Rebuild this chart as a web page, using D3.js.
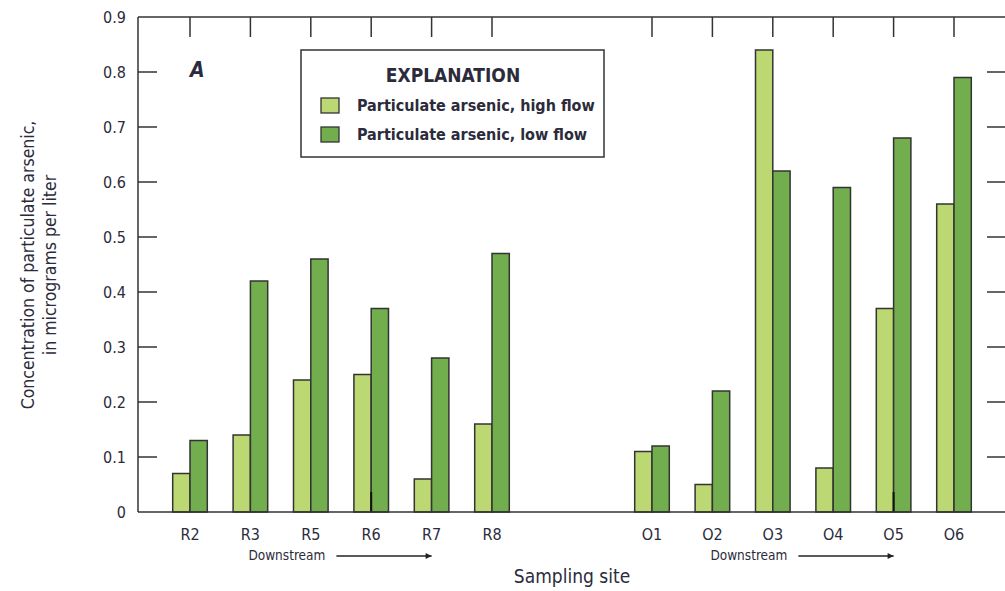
<!DOCTYPE html>
<html>
<head>
<meta charset="utf-8">
<script src="https://cdn.jsdelivr.net/npm/d3@7"></script>
<style>
  body { margin: 0; background: #fff; }
  svg text { font-family: "Liberation Sans Narrow", "DejaVu Sans Condensed", "Roboto", sans-serif; fill: #2b2b3b; }
</style>
</head>
<body>
<svg id="chart" width="1005" height="591"></svg>
<script>
// sites, upstream to downstream
var reachSites = ["R2", "R3", "R5", "R6", "R7", "R8"];
var otherSites = ["O1", "O2", "O3", "O4", "O5", "O6"];
// particulate arsenic, micrograms per liter
var highFlowR = [0.07, 0.14, 0.24, 0.25, 0.06, 0.16];
var lowFlowR  = [0.13, 0.42, 0.46, 0.37, 0.28, 0.47];
var highFlowO = [0.11, 0.05, 0.84, 0.08, 0.37, 0.56];
var lowFlowO  = [0.12, 0.22, 0.62, 0.59, 0.68, 0.79];
var yTicks = [0, 0.1, 0.2, 0.3, 0.4, 0.5, 0.6, 0.7, 0.8, 0.9];
var seriesNames = ["Particulate arsenic, high flow", "Particulate arsenic, low flow"];
var colors = ["#bcd873", "#72ae4e"];

(function() {
var svg = d3.select("#chart");
var pLeft = 138, pRight = 1007, pTop = 17, pBottom = 512;

var y = d3.scaleLinear().domain([0, 0.9]).range([pBottom, pTop]);
var xR = d3.scaleBand().domain(reachSites).range([159.8, 522.2]);
var xO = d3.scaleBand().domain(otherSites).range([621.8, 984.2]);
var barW = 17.3;

var groups = [
  { x: xR, sites: reachSites, high: highFlowR, low: lowFlowR },
  { x: xO, sites: otherSites, high: highFlowO, low: lowFlowO }
];

// frame
svg.append("line").attr("x1", pLeft).attr("x2", pRight).attr("y1", pTop).attr("y2", pTop)
  .attr("stroke", "#333").attr("stroke-width", 1.5);
svg.append("line").attr("x1", pLeft).attr("x2", pLeft).attr("y1", pTop).attr("y2", pBottom)
  .attr("stroke", "#333").attr("stroke-width", 1.5);
svg.append("line").attr("x1", pRight).attr("x2", pRight).attr("y1", pTop).attr("y2", pBottom)
  .attr("stroke", "#333").attr("stroke-width", 1.5);

// left ticks + labels, right ticks
yTicks.forEach(function(t) {
  if (t > 0 && t < 0.9) {
    svg.append("line").attr("x1", pLeft).attr("x2", pLeft + 19).attr("y1", y(t)).attr("y2", y(t))
      .attr("stroke", "#333").attr("stroke-width", 1.5);
    svg.append("line").attr("x1", pRight - 20).attr("x2", pRight).attr("y1", y(t)).attr("y2", y(t))
      .attr("stroke", "#333").attr("stroke-width", 1.5);
  }
  svg.append("text").attr("x", 126).attr("y", y(t)).attr("dy", "0.36em")
    .attr("text-anchor", "end").attr("font-size", 16).text(t === 0 ? "0" : d3.format(".1f")(t));
});

// bars
groups.forEach(function(g) {
  g.sites.forEach(function(s, i) {
    var cx = g.x(s) + g.x.bandwidth() / 2;
    [g.high[i], g.low[i]].forEach(function(v, k) {
      svg.append("rect")
        .attr("x", cx - barW + k * barW).attr("y", y(v))
        .attr("width", barW).attr("height", y(0) - y(v))
        .attr("fill", colors[k]).attr("stroke", "#333").attr("stroke-width", 1.5);
    });
    // top ticks
    svg.append("line").attr("x1", cx).attr("x2", cx).attr("y1", pTop).attr("y2", pTop + 20)
      .attr("stroke", "#333").attr("stroke-width", 1.5);
    svg.append("text").attr("x", cx).attr("y", 540).attr("text-anchor", "middle")
      .attr("font-size", 16).text(s);
  });
});

// bottom ticks visible at R6 and O5
[xR("R6") + xR.bandwidth() / 2, xO("O5") + xO.bandwidth() / 2].forEach(function(cx) {
  svg.append("line").attr("x1", cx).attr("x2", cx).attr("y1", pBottom - 20).attr("y2", pBottom)
    .attr("stroke", "#111").attr("stroke-width", 2);
});

// bottom axis line
svg.append("line").attr("x1", pLeft).attr("x2", pRight).attr("y1", pBottom).attr("y2", pBottom)
  .attr("stroke", "#333").attr("stroke-width", 1.5);

// downstream arrows
svg.append("defs").append("marker").attr("id", "arr").attr("viewBox", "0 0 10 10")
  .attr("refX", 10).attr("refY", 5).attr("markerWidth", 8).attr("markerHeight", 6)
  .attr("markerUnits", "userSpaceOnUse").attr("orient", "auto")
  .append("path").attr("d", "M0,0 L10,5 L0,10 z").attr("fill", "#222");
[[xR, "R3", "R7"], [xO, "O2", "O5"]].forEach(function(a) {
  var sc = a[0];
  var start = sc(a[1]) + sc.bandwidth() / 2 - 2;
  var end = sc(a[2]) + sc.bandwidth() / 2;
  svg.append("text").attr("x", start).attr("y", 560).attr("font-size", 13.5).text("Downstream");
  svg.append("line").attr("x1", start + 88).attr("x2", end).attr("y1", 556).attr("y2", 556)
    .attr("stroke", "#222").attr("stroke-width", 1.3).attr("marker-end", "url(#arr)");
});

// axis titles
svg.append("text").attr("x", 572).attr("y", 583).attr("text-anchor", "middle")
  .attr("font-size", 19).text("Sampling site");
var yt = svg.append("text").attr("transform", "translate(34,265) rotate(-90)")
  .attr("text-anchor", "middle").attr("font-size", 17.5);
yt.append("tspan").attr("x", 0).attr("dy", 0).text("Concentration of particulate arsenic,");
yt.append("tspan").attr("x", 0).attr("dy", 22).text("in micrograms per liter");

// panel letter
svg.append("text").attr("x", 190).attr("y", 77).attr("font-size", 21)
  .attr("font-weight", "bold").attr("font-style", "italic").text("A");

// legend
var lg = svg.append("g").attr("transform", "translate(301,50)");
lg.append("rect").attr("width", 303).attr("height", 107).attr("fill", "#fff")
  .attr("stroke", "#333").attr("stroke-width", 1.5);
lg.append("text").attr("x", 152).attr("y", 32).attr("text-anchor", "middle")
  .attr("font-size", 19).attr("font-weight", "bold").text("EXPLANATION");
seriesNames.forEach(function(n, i) {
  lg.append("rect").attr("x", 20).attr("y", 48 + i * 29).attr("width", 18).attr("height", 15)
    .attr("fill", colors[i]).attr("stroke", "#333").attr("stroke-width", 1.3);
  lg.append("text").attr("x", 56).attr("y", 61 + i * 29).attr("font-size", 16)
    .attr("font-weight", "bold").text(n);
});
})();
</script>
</body>
</html>
